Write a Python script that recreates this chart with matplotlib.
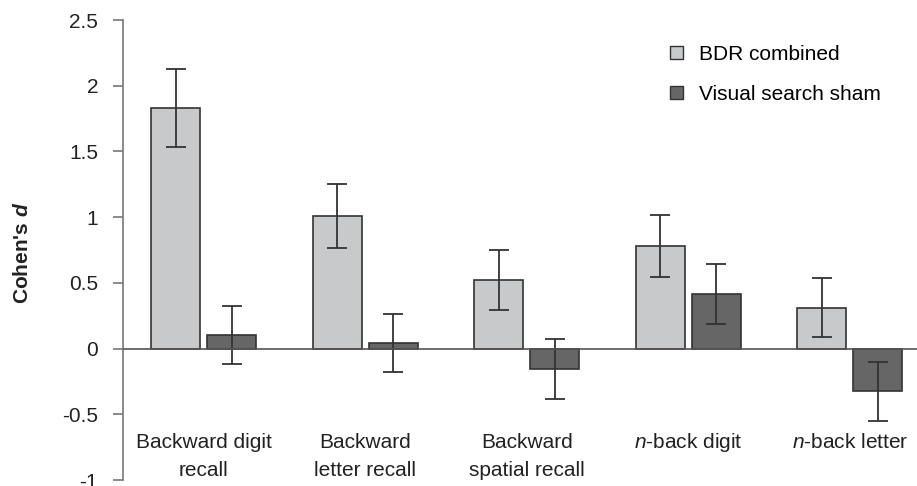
import matplotlib
matplotlib.use('Agg')
from matplotlib import pyplot as plt
from matplotlib.patches import Patch
import numpy as np

# Data
categories = ['Backward digit\nrecall', 'Backward\nletter recall', 'Backward\nspatial recall',
              '$\\mathit{n}$-back digit', '$\\mathit{n}$-back letter']
bdr_values = [1.83, 1.01, 0.52, 0.78, 0.31]
bdr_errors = [0.30, 0.245, 0.23, 0.235, 0.225]
sham_values = [0.105, 0.04, -0.155, 0.415, -0.325]
sham_errors = [0.22, 0.22, 0.225, 0.225, 0.225]
yticks = [-1, -0.5, 0, 0.5, 1, 1.5, 2, 2.5]
ytick_labels = ['-1', '-0.5', '0', '0.5', '1', '1.5', '2', '2.5']

plt.rcParams.update({'font.family': 'Liberation Sans', 'font.size': 15,
                     'mathtext.fontset': 'custom',
                     'mathtext.it': 'Liberation Sans:italic',
                     'mathtext.bf': 'Liberation Sans:bold:italic',
                     'mathtext.rm': 'Liberation Sans'})

fig = plt.figure(figsize=(9.17, 4.86), dpi=100)
ax = fig.add_axes([123 / 917, 6 / 486, 807.5 / 917, 460 / 486])

x = np.arange(len(categories))
w = 0.303
off = 0.173
err_kw = dict(ecolor='#333333', elinewidth=1.3, capsize=7, capthick=1.3)
ax.bar(x - off, bdr_values, w, yerr=bdr_errors, color='#c8c9cb', edgecolor='#333333',
       linewidth=1.2, error_kw=err_kw, zorder=2)
ax.bar(x + off, sham_values, w, yerr=sham_errors, color='#666666', edgecolor='#333333',
       linewidth=1.2, error_kw=err_kw, zorder=2)

ax.axhline(0, color='#555555', linewidth=1.2, zorder=3)

ax.set_xlim(-0.5, 4.5)
ax.set_ylim(-1, 2.5)
ax.set_yticks(yticks)
ax.set_yticklabels(ytick_labels, color='#222222')
ax.set_xticks([])
for s in ['top', 'right', 'bottom']:
    ax.spines[s].set_visible(False)
ax.spines['left'].set_color('#777777')
ax.spines['left'].set_linewidth(1.2)
ax.tick_params(axis='y', direction='out', length=7, width=1.2, color='#777777', pad=11)

# category labels sit inside the plot area, under the zero line (one text per line)
for xi, lab in zip(x, categories):
    for k, line in enumerate(lab.split('\n')):
        ax.text(xi, -0.755 - 0.215 * k, line, ha='center', va='baseline', color='#222222')

fig.text(23 / 917, 1 - 253 / 486, "Cohen's $\\mathbf{d}$", rotation=90, ha='center', va='center',
         fontweight='bold', color='#222222')

handles = [Patch(facecolor='#c8c9cb', edgecolor='#333333', label='BDR combined'),
           Patch(facecolor='#666666', edgecolor='#333333', label='Visual search sham')]
fig.legend(handles=handles, loc='upper left', bbox_to_anchor=(670 / 917, 1 - 45 / 486),
           frameon=False, handlelength=0.63, handleheight=0.63, handletextpad=0.75,
           labelspacing=1.0, borderpad=0, borderaxespad=0, fontsize=15)

plt.savefig('out.png', dpi=100)
